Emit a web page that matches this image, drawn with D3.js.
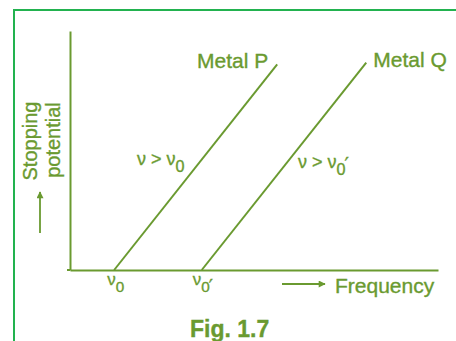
<!DOCTYPE html>
<html><head><meta charset="utf-8">
<script src="https://cdn.jsdelivr.net/npm/d3@7"></script>
<style>
html,body{margin:0;padding:0;background:#fff;}
svg{display:block;}
text{font-family:"Liberation Sans",Arial,sans-serif;fill:#6a9a30;stroke:#6a9a30;stroke-width:0.35px;}
</style></head>
<body>
<svg id="c" width="456" height="341"></svg>
<script>
// Data
const metals = ["Metal P", "Metal Q"];
const metalPFreq = [1.2, 5.63];
const metalPV = [0, 8.6];
const metalQFreq = [3.58, 8.05];
const metalQV = [0, 8.68];
const thresholdLabels = ["ν0", "ν0′"];
const conditionLabels = ["ν > ν0", "ν > ν0′"];
const xTitle = "Frequency";
const yTitle = ["Stopping", "potential"];
const caption = "Fig. 1.7";

const green = "#6a9a30";
const svg = d3.select("#c");

// border
svg.append("rect").attr("x", 14).attr("y", 10).attr("width", 600).attr("height", 500)
  .attr("fill", "none").attr("stroke", "#22b24f").attr("stroke-width", 2);

const x = d3.scaleLinear().domain([0, 10]).range([70, 438]);
const y = d3.scaleLinear().domain([0, 10]).range([270, 31]);

const series = [
  {name: metals[0], f: metalPFreq, v: metalPV},
  {name: metals[1], f: metalQFreq, v: metalQV}
];

// axes
const xAxis = svg.append("g").attr("transform", `translate(0,${y(0)})`)
  .call(d3.axisBottom(x).tickValues(series.map(s => s.f[0])).tickSize(0).tickSizeOuter(0).tickFormat(""));
const yAxis = svg.append("g").attr("transform", `translate(${x(0)},0)`)
  .call(d3.axisLeft(y).tickValues([]).tickSizeOuter(0));
[xAxis, yAxis].forEach(a => {
  a.select(".domain").attr("stroke", green).attr("stroke-width", 2);
  a.selectAll("text").remove();
});
svg.append("line").attr("x1", x(0) - 3).attr("x2", x(0)).attr("y1", y(0)).attr("y2", y(0))
  .attr("stroke", green).attr("stroke-width", 2);

// lines
const line = d3.line().x(d => x(d[0])).y(d => y(d[1]));
series.forEach((s, i) => {
  const pts = s.f.map((f, j) => [f, s.v[j]]);
  svg.append("path").attr("d", line(pts)).attr("fill", "none")
    .attr("stroke", green).attr("stroke-width", 2);
});

// series names
const ends = series.map(s => [x(s.f[1]), y(s.v[1])]);
svg.append("text").attr("x", ends[0][0] - 9).attr("y", ends[0][1] + 4)
  .attr("text-anchor", "end").attr("font-size", 21).text(series[0].name);
svg.append("text").attr("x", ends[1][0] + 7).attr("y", ends[1][1] + 4)
  .attr("text-anchor", "start").attr("font-size", 21).text(series[1].name);

// ν0 with subscript and optional prime
function nuLabel(sel, str, size, primeDy) {
  const prime = str.endsWith("′");
  const base = str.slice(0, str.length - (prime ? 2 : 1));
  sel.append("tspan").text(base);
  sel.append("tspan").attr("dy", size * 0.4).attr("font-size", size * 0.9).text("0");
  if (prime) sel.append("tspan").attr("dy", primeDy).attr("dx", -1).attr("font-size", size * 1.1)
    .attr("font-family", "DejaVu Sans").text("′");
}

// threshold labels
series.forEach((s, i) => {
  const t = svg.append("text").attr("x", x(s.f[0]) - 7 - (i ? 2 : 0)).attr("y", 285).attr("font-size", 17);
  nuLabel(t, thresholdLabels[i], 17, 1);
});

// condition labels
const condPos = [[137, 165], [298, 168]];
conditionLabels.forEach((c, i) => {
  const t = svg.append("text").attr("x", condPos[i][0]).attr("y", condPos[i][1]).attr("font-size", 18);
  nuLabel(t, c, 18, -4);
});

// x title with arrow
svg.append("defs").append("marker").attr("id", "ah").attr("viewBox", "0 0 10 10")
  .attr("refX", 9).attr("refY", 5).attr("markerWidth", 11).attr("markerHeight", 7)
  .attr("markerUnits", "userSpaceOnUse").attr("orient", "auto")
  .append("path").attr("d", "M0,0L10,5L0,10z").attr("fill", green);
svg.append("line").attr("x1", 282).attr("x2", 325).attr("y1", 284).attr("y2", 284)
  .attr("stroke", green).attr("stroke-width", 1.8).attr("marker-end", "url(#ah)");
svg.append("text").attr("x", 335).attr("y", 293).attr("font-size", 21).text(xTitle);

// y title
svg.append("text").attr("transform", "translate(37,141) rotate(-90)").attr("text-anchor", "middle")
  .attr("font-size", 20).text(yTitle[0]);
svg.append("text").attr("transform", "translate(60,140) rotate(-90)").attr("text-anchor", "middle")
  .attr("font-size", 20).text(yTitle[1]);
svg.append("line").attr("x1", 40).attr("x2", 40).attr("y1", 233).attr("y2", 192)
  .attr("stroke", green).attr("stroke-width", 1.8).attr("marker-end", "url(#ah)");

// caption
svg.append("text").attr("x", 190).attr("y", 337).attr("font-size", 23).attr("font-weight", "bold").text(caption);
</script>
</body></html>
